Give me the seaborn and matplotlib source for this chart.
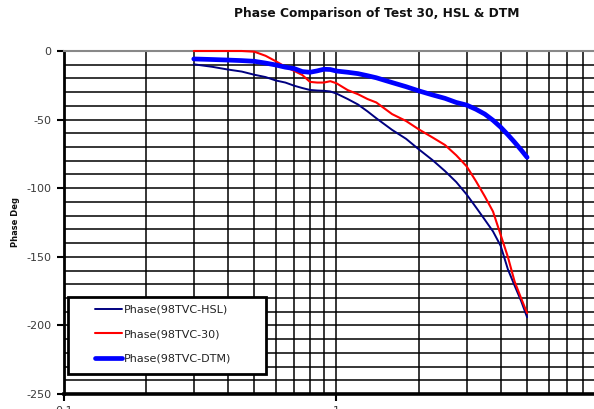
import matplotlib
matplotlib.use("Agg")
import matplotlib.pyplot as plt
import matplotlib.ticker as mticker
from matplotlib.patches import Rectangle
import pandas as pd
import seaborn as sns

# frequency (Hz) and phase (deg)
freq = [0.3, 0.35, 0.4, 0.45, 0.5, 0.55, 0.6, 0.65, 0.7, 0.75, 0.8, 0.85,
        0.9, 0.95, 1.0, 1.1, 1.2, 1.3, 1.4, 1.6, 1.8, 2.0, 2.25, 2.5, 2.75,
        3.0, 3.25, 3.5, 3.75, 4.0, 4.25, 4.5, 4.75, 5.0]
phase_hsl = [-9.7, -11.5, -13.5, -15, -17.3, -19, -21.5, -23, -25.3, -27,
             -28.4, -28.8, -29, -29.5, -31, -35, -39, -44, -49, -57.5, -64,
             -71.5, -79.5, -87.5, -95.5, -104.5, -114, -123, -131.5, -142,
             -159, -171, -182, -194]
phase_30 = [0, 0, 0, 0, -0.5, -3.5, -7.5, -11.5, -14.5, -17.5, -22.5, -23,
            -23, -22, -23.5, -28.5, -31.5, -35, -37.5, -46, -51, -57, -63,
            -68.5, -76, -84, -95, -106, -117, -134, -150, -168, -180, -191]
phase_dtm = [-5.8, -6.2, -6.6, -7.0, -7.5, -8.8, -10.2, -11.8, -12.8, -15,
             -15.5, -14.5, -13.3, -13.5, -14.6, -15.5, -16.5, -18, -19.5,
             -23, -26, -29, -32, -34.5, -37.5, -39.4, -42.5, -46, -50.5,
             -55.5, -61, -66.5, -72, -77.5]

labels = ["Phase(98TVC-HSL)", "Phase(98TVC-30)", "Phase(98TVC-DTM)"]
colors = ["#000080", "#ff0000", "#0000ff"]
widths = [1.4, 1.5, 3.4]

df = pd.DataFrame({"freq": freq, labels[0]: phase_hsl,
                   labels[1]: phase_30, labels[2]: phase_dtm})

sns.set_style("white")
plt.rcParams["font.family"] = ["DejaVu Sans"]
plt.rcParams["axes.unicode_minus"] = False

fig = plt.figure(figsize=(5.94, 4.09), dpi=100)
ax = fig.add_axes([0.1071, 0.0367, 0.9185, 0.8386])

for lab, c, w in zip(labels, colors, widths):
    sns.lineplot(data=df, x="freq", y=lab, ax=ax, color=c, lw=w, label=lab,
                 clip_on=False, zorder=3)

ax.set_xscale("log")
ax.set_xlim(0.1, 10)
ax.set_ylim(-250, 0)
ax.yaxis.set_major_locator(mticker.MultipleLocator(50))
ax.yaxis.set_minor_locator(mticker.MultipleLocator(10))
ax.xaxis.set_major_locator(mticker.FixedLocator([0.1, 1]))
ax.xaxis.set_minor_locator(mticker.LogLocator(base=10, subs=range(2, 10)))
ax.xaxis.set_major_formatter(mticker.FixedFormatter(["0.1", "1"]))
ax.xaxis.set_minor_formatter(mticker.NullFormatter())

ax.set_axisbelow(True)
ax.grid(which="both", color="black", lw=1.1)
ax.tick_params(which="major", direction="out", length=5, width=1.5,
               color="black", labelsize=8, labelcolor="#3a3a3a", pad=4)
ax.tick_params(which="minor", length=0)
ax.tick_params(axis="y", left=True)
ax.tick_params(axis="x", bottom=True)

ax.spines["left"].set_linewidth(2)
ax.spines["bottom"].set_linewidth(2.6)
ax.spines["left"].set_color("black")
ax.spines["bottom"].set_color("black")
ax.spines["top"].set_color("#888888")
ax.spines["top"].set_linewidth(1.5)
ax.spines["right"].set_visible(False)

ax.set_xlabel("")
ax.set_ylabel("")

# legend box
ax.add_patch(Rectangle((0.0075, 0.0583), 0.3635, 0.2245, transform=ax.transAxes,
                       facecolor="white", edgecolor="black", lw=2, zorder=4))
leg = ax.legend(loc="upper left", bbox_to_anchor=(0.0576, 0.2600), frameon=False,
                borderpad=0, borderaxespad=0, fontsize=8, handlelength=2.4,
                handletextpad=0.2, labelspacing=1.3)
leg.set_zorder(5)
for t in leg.get_texts():
    t.set_color("#222222")

fig.text(377 / 594, 1 - 13 / 409, "Phase Comparison of Test 30, HSL & DTM",
         ha="center", va="center", fontsize=8.8, fontweight="bold", color="#111111")
fig.text(16 / 594, 1 - 222 / 409, "Phase Deg", rotation=90, ha="center",
         va="center", fontsize=6, fontweight="bold", color="#111111")

fig.savefig("out.png", dpi=100)
